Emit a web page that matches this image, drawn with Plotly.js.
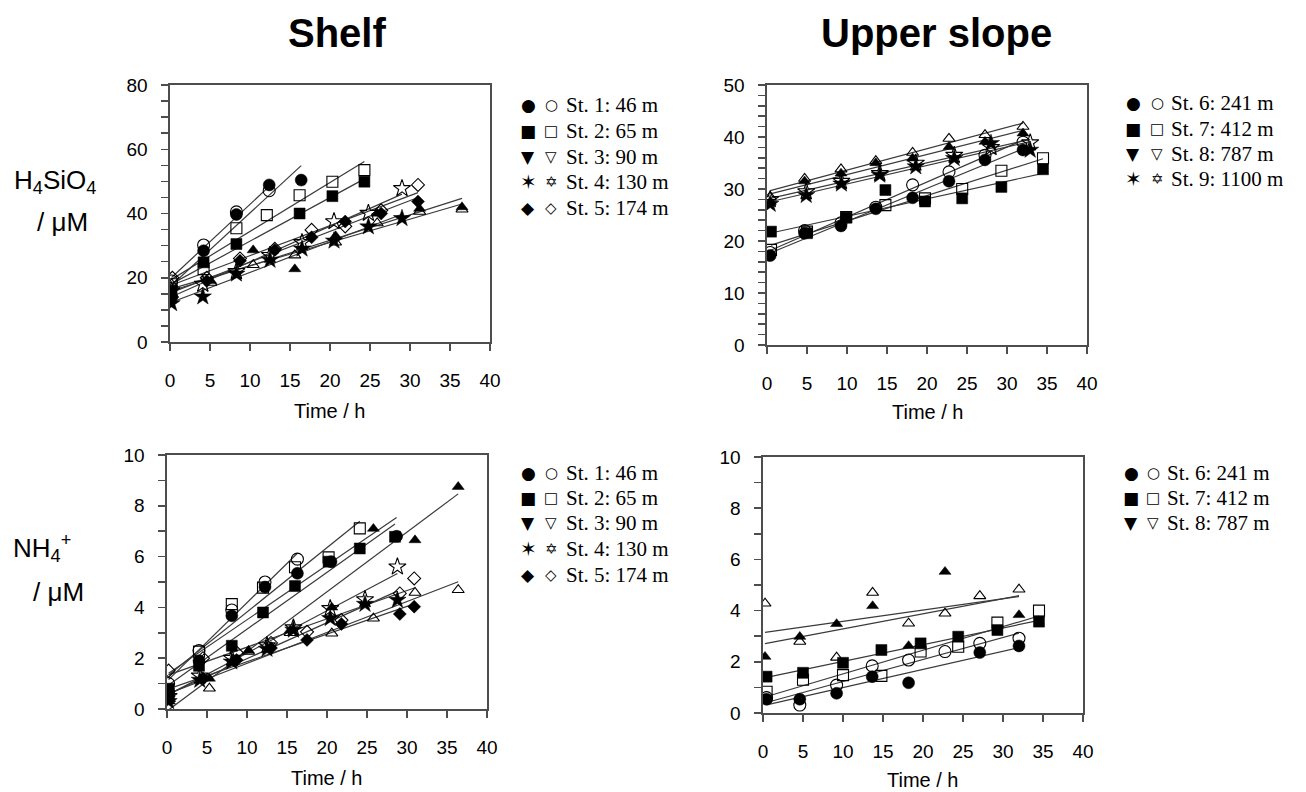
<!DOCTYPE html>
<html><head><meta charset="utf-8">
<script src="https://cdn.plot.ly/plotly-3.0.1.min.js"></script>
<style>html,body{margin:0;padding:0;background:#fff}#chart{width:1306px;height:792px}</style>
</head><body><div id="chart"></div>
<script>
// ---------------- DATA ----------------
// Panel A: H4SiO4, Shelf (uM) ; F = filled replicate, O = open replicate
const A_t1 = [0.2, 4.2, 8.3, 12.4, 16.4];
const A_F1 = [14, 28.4, 39.7, 48.9, 50.4];
const A_O1 = [19, 30.2, 40.5, 47.1, null];
const A_t2 = [0.2, 4.2, 8.3, 12.1, 16.2, 20.3, 24.3];
const A_F2 = [16, 24.8, 30.5, null, 40, 45.4, 49.9];
const A_O2 = [18, 22.7, 35.4, 39.5, 45.7, 49.9, 53.5];
const A_t3 = [0.2, 5.1, 10.4, 15.6, 20.7, 25.9, 31.2, 36.5];
const A_F3 = [15, 19, 28.6, 22.7, 33, 40, 41.5, 42];
const A_O3 = [18, 18.5, 24, 27, 31, 37, 40.6, 41.3];
const A_t4 = [0.2, 4.1, 8.3, 12.5, 16.5, 20.5, 24.8, 29.0];
const A_F4 = [12, 14.1, 21.2, 25.5, 29, 31.5, 35.9, 38.5];
const A_O4 = [16, 18, 22, 27, 31, 37.5, 40.1, 47.8];
const A_t5 = [0.3, 4.6, 8.75, 13.1, 17.7, 21.9, 26.4, 31];
const A_F5 = [14, 19, 25.3, 28.6, 32.6, 37.5, 40, 43.7];
const A_O5 = [20, 20, 26, 29, 34.9, 36, 41, 48.9];

// Panel B: H4SiO4, Upper slope
const B_t6 = [0.4, 4.7, 9.25, 13.6, 18.2, 22.75, 27.25, 32];
const B_F6 = [17.2, 21.5, 22.9, 26.2, 28.3, 31.5, 35.6, 37.5];
const B_O6 = [17.8, 22, 23.5, 26.5, 30.8, 33.3, 36.5, 39];
const B_t7 = [0.5, 5, 9.9, 14.8, 19.75, 24.4, 29.3, 34.5];
const B_F7 = [21.8, 21.5, 24.5, 29.8, 27.6, 28.2, 30.4, 33.8];
const B_O7 = [18.3, 21.8, 24.6, 26.9, 28.2, 30, 33.5, 35.9];
const B_t8 = [0.4, 4.7, 9.25, 13.6, 18.2, 22.75, 27.25, 32];
const B_F8 = [27.5, 31.5, 33, 35, 35.9, 38.1, 39.1, 40.7];
const B_O8 = [28.5, 32, 33.8, 35.4, 37, 39.7, 40.4, 42];
const B_t9 = [0.4, 4.9, 9.3, 14.1, 18.6, 23.4, 28, 32.9];
const B_F9 = [27.1, 28.8, 31, 32.7, 34.3, 35.9, 38.8, 37.5];
const B_O9 = [28, 29.5, 31.5, 33, 35, 36.5, 38, 38.9];

// Panel C: NH4+, Shelf
const C_t1 = [0.2, 4, 8.1, 12.25, 16.3, 20.5, 28.7];
const C_F1 = [0.6, 1.9, 3.67, 4.8, 5.34, 5.8, 6.8];
const C_O1 = [1.0, 2.3, 3.9, 5.0, 5.9, null, null];
const C_t2 = [0.2, 4, 8.1, 12, 16, 20.2, 24.1, 28.5];
const C_F2 = [0.8, 1.7, 2.49, 3.8, 4.84, 5.8, 6.32, 6.78];
const C_O2 = [0.6, 2.26, 4.13, 4.78, 5.58, 5.97, 7.11, null];
const C_t3 = [0.3, 5.3, 10.2, 15.4, 20.6, 25.8, 31, 36.4];
const C_F3 = [0.3, 1.2, 2.3, 3.1, 4.0, 7.1, 6.65, 8.75];
const C_O3 = [0.4, 0.81, 2.26, 3.0, 2.98, 3.57, 4.58, 4.69];
const C_t4 = [0.2, 4.1, 8.1, 12.5, 15.8, 20.4, 24.75, 28.8];
const C_F4 = [0.3, 1.14, 1.86, 2.36, 3.11, 3.57, 4.13, 4.29];
const C_O4 = [0.5, 1.3, 2.0, 2.5, 3.2, 3.96, 4.31, 5.6];
const C_t5 = [0.2, 4.5, 8.7, 13, 17.5, 21.8, 29.1, 30.9];
const C_F5 = [0.5, 1.2, 1.93, 2.4, 2.72, 3.35, 3.74, 4.03];
const C_O5 = [1.51, 2.0, 2.22, 2.6, 3.04, 3.5, 4.55, 5.14];

// Panel D: NH4+, Upper slope
const D_t6 = [0.45, 4.6, 9.2, 13.65, 18.2, 22.75, 27.1, 32];
const D_F6 = [0.54, 0.54, 0.77, 1.42, 1.18, null, 2.36, 2.62];
const D_O6 = [0.6, 0.31, 1.09, 1.84, 2.07, 2.4, 2.72, 2.92];
const D_t7 = [0.45, 5, 10, 14.8, 19.7, 24.4, 29.3, 34.5];
const D_F7 = [1.42, 1.57, 1.96, 2.46, 2.72, 2.98, 3.24, 3.57];
const D_O7 = [0.83, 1.3, 1.48, 1.45, 2.4, 2.59, 3.53, 4.0];
const D_t8 = [0.25, 4.6, 9.2, 13.7, 18.2, 22.75, 27.1, 32];
const D_F8 = [2.2, 2.98, 3.48, 4.18, 2.62, 5.52, null, 3.83];
const D_O8 = [4.28, 2.79, 2.17, 4.7, 3.5, 3.89, 4.57, 4.83];

// Legend labels
const shelfLabels = ['St. 1: 46 m', 'St. 2: 65 m', 'St. 3: 90 m', 'St. 4: 130 m', 'St. 5: 174 m'];
const slopeLabels = ['St. 6: 241 m', 'St. 7: 412 m', 'St. 8: 787 m', 'St. 9: 1100 m'];
const xTitle = 'Time / h';

// ---------------- STYLE ----------------
const W = 1306, H = 792;
const px = x => x / W, py = y => 1 - y / H;
const SYM = ['circle', 'square', 'triangle-up', 'star', 'diamond'];
const SIZE = [12, 11, 10.5, 13, 10];
const GLF = ['\u25CF', '\u25A0', '\u25BC', '\u2736', '\u25C6'];
const GLO = ['\u25CB', '\u25A1', '\u25BD', '\u2721', '\u25C7'];
const GLSIZE = [17, 17, 17, 20, 17];
const AX = '#4d4d4d', LINE = '#3a3a3a';
const sans = 'Liberation Sans, Arial, sans-serif';
const serif = 'Liberation Serif, Times New Roman, serif';

const panels = [
  {xa: 'x', ya: 'y', series: [[A_t1, A_F1, A_O1], [A_t2, A_F2, A_O2], [A_t3, A_F3, A_O3], [A_t4, A_F4, A_O4], [A_t5, A_F5, A_O5]]},
  {xa: 'x2', ya: 'y2', series: [[B_t6, B_F6, B_O6], [B_t7, B_F7, B_O7], [B_t8, B_F8, B_O8], [B_t9, B_F9, B_O9]]},
  {xa: 'x3', ya: 'y3', series: [[C_t1, C_F1, C_O1], [C_t2, C_F2, C_O2], [C_t3, C_F3, C_O3], [C_t4, C_F4, C_O4], [C_t5, C_F5, C_O5]]},
  {xa: 'x4', ya: 'y4', series: [[D_t6, D_F6, D_O6], [D_t7, D_F7, D_O7], [D_t8, D_F8, D_O8]]}
];

function fit(t, v) {
  const xs = [], ys = [];
  t.forEach((ti, i) => { if (v[i] !== null && v[i] !== undefined) { xs.push(ti); ys.push(v[i]); } });
  const n = xs.length;
  const mx = xs.reduce((a, b) => a + b, 0) / n, my = ys.reduce((a, b) => a + b, 0) / n;
  let sxy = 0, sxx = 0;
  for (let i = 0; i < n; i++) { sxy += (xs[i] - mx) * (ys[i] - my); sxx += (xs[i] - mx) ** 2; }
  const b = sxy / sxx, a = my - b * mx;
  const x0 = Math.min(...xs), x1 = Math.max(...xs);
  return {x: [x0, x1], y: [a + b * x0, a + b * x1]};
}

const traces = [];
panels.forEach(p => {
  p.series.forEach(s => {
    [s[1], s[2]].forEach(v => {
      const f = fit(s[0], v);
      traces.push({type: 'scatter', mode: 'lines', x: f.x, y: f.y, xaxis: p.xa, yaxis: p.ya,
        line: {color: LINE, width: 1.2}, hoverinfo: 'skip'});
    });
  });
  p.series.forEach((s, k) => {
    traces.push({type: 'scatter', mode: 'markers', x: s[0], y: s[1], xaxis: p.xa, yaxis: p.ya,
      marker: {symbol: SYM[k], size: SIZE[k], color: '#000', line: {color: '#000', width: 0.5}}});
    traces.push({type: 'scatter', mode: 'markers', x: s[0], y: s[2], xaxis: p.xa, yaxis: p.ya,
      marker: {symbol: SYM[k] + '-open', size: SIZE[k], color: '#000', line: {color: '#000', width: 1.1}}});
  });
});

function xaxis(l, r, anchor) {
  return {domain: [px(l), px(r)], range: [0, 40], dtick: 5, tick0: 0, anchor: anchor,
    ticks: 'outside', ticklen: 7, tickwidth: 1.5, tickcolor: AX, showline: true, linecolor: AX, linewidth: 1.6,
    mirror: true, showgrid: false, zeroline: false, ticklabelstandoff: 14,
    tickfont: {family: sans, size: 19, color: '#000'}, fixedrange: true};
}
function yaxis(top, bot, max, dt, mn, anchor) {
  return {domain: [py(bot), py(top)], range: [0, max], dtick: dt, tick0: 0, anchor: anchor,
    ticks: 'outside', ticklen: 7, tickwidth: 1.5, tickcolor: AX, showline: true, linecolor: AX, linewidth: 1.6,
    mirror: true, showgrid: false, zeroline: false, ticklabelstandoff: 10,
    minor: {dtick: mn, tick0: 0, ticks: 'outside', ticklen: 7, tickwidth: 1.5, tickcolor: AX, showgrid: false},
    tickfont: {family: sans, size: 19, color: '#000'}, fixedrange: true};
}

const ann = [];
function text(x, y, t, size, family, opts) {
  ann.push(Object.assign({xref: 'paper', yref: 'paper', x: px(x), y: py(y), text: t, showarrow: false,
    font: {family: family, size: size, color: '#000'}, xanchor: 'center', yanchor: 'middle'}, opts || {}));
}
// titles
text(337, 33, '<b>Shelf</b>', 40, sans);
text(936, 33, '<b>Upper slope</b>', 40, sans);
// row labels
text(55, 182, 'H<sub>4</sub>SiO<sub>4</sub>', 26, sans);
text(62, 222, '/ \u03BCM', 26, sans);
text(42, 548, 'NH<sub>4</sub><sup>+</sup>', 26, sans);
text(58, 592, '/ \u03BCM', 26, sans);
// axis titles
text(330, 411, xTitle, 20, sans);
text(928, 412, xTitle, 20, sans);
text(327, 778, xTitle, 20, sans);
text(923, 780, xTitle, 20, sans);
// legends
function legend(labels, glyphIdx, xf, xo, xt, ys) {
  for (let i = 0; i < labels.length && i < ys.length; i++) {
    const g = glyphIdx[i];
    text(xf, ys[i], GLF[g], GLSIZE[g], 'DejaVu Sans');
    text(xo, ys[i], GLO[g], 15, 'DejaVu Sans');
    text(xt, ys[i], labels[i], 21, serif, {xanchor: 'left'});
  }
}
legend(shelfLabels, [0, 1, 2, 3, 4], 528, 551, 564, [105, 131, 157, 182, 208]);
legend(shelfLabels, [0, 1, 2, 3, 4], 528, 551, 564, [473, 498, 523, 549, 575]);
legend(slopeLabels, [0, 1, 2, 3], 1133, 1157, 1169, [103, 129, 154, 179]);
legend(slopeLabels, [0, 1, 2], 1131, 1153, 1165, [473, 498, 523]);

const layout = {
  width: W, height: H, margin: {l: 0, r: 0, t: 0, b: 0}, paper_bgcolor: '#fff', plot_bgcolor: '#fff',
  showlegend: false, annotations: ann,
  xaxis: xaxis(170, 490, 'y'),
  yaxis: yaxis(85, 342, 80, 20, 5, 'x'),
  xaxis2: xaxis(767, 1087, 'y2'),
  yaxis2: yaxis(85, 345, 50, 10, 2, 'x2'),
  xaxis3: xaxis(167, 487, 'y3'),
  yaxis3: yaxis(455, 709, 10, 2, 1, 'x3'),
  xaxis4: xaxis(763, 1083, 'y4'),
  yaxis4: yaxis(457, 713, 10, 2, 1, 'x4')
};
Plotly.newPlot('chart', traces, layout, {displayModeBar: false, staticPlot: true});
</script>
</body></html>
